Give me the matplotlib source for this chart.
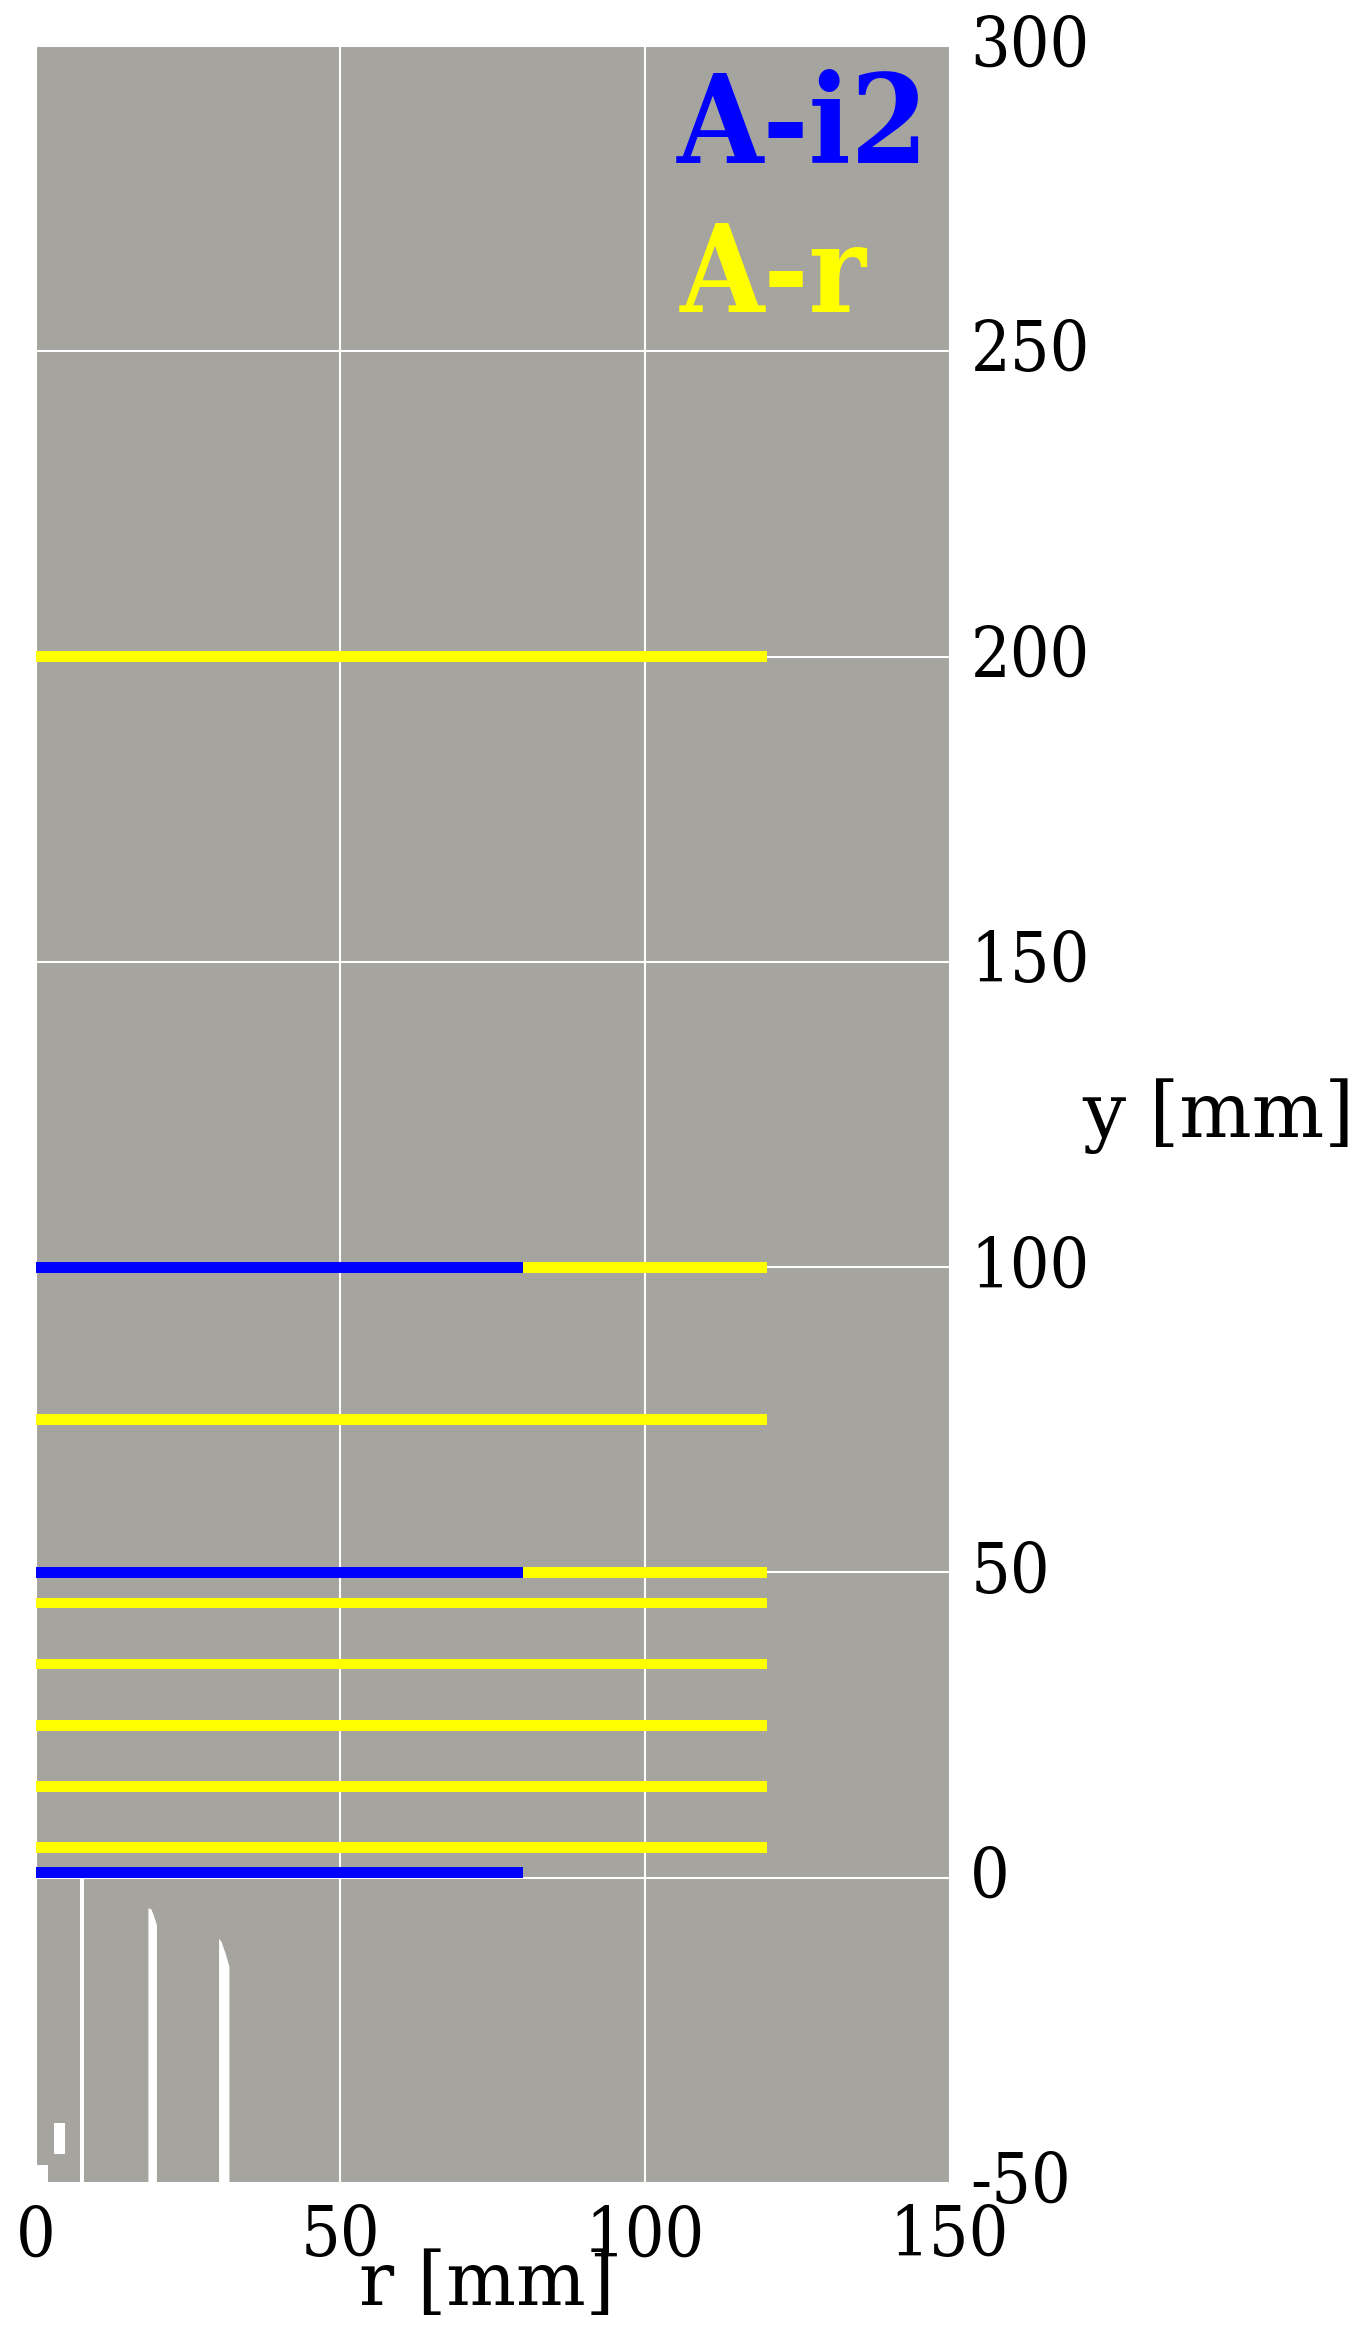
import matplotlib
matplotlib.use("Agg")
import matplotlib.pyplot as plt
from matplotlib.transforms import ScaledTranslation

# bar centres [mm]
yellowCentres = [5, 15, 25, 35, 45, 50, 75, 100, 200]
blueCentres = [0.85, 50, 100]
yellowEnd = 120
blueEnd = 80
barThickness = 1.78

xTicks = [0, 50, 100, 150]
yTicks = [-50, 0, 50, 100, 150, 200, 250, 300]

# white gaps in the grey area, (r, y) outlines
gapInner = ([7.2, 7.2, 7.9, 7.9], [-50, 0, 0, -50])
gapMiddle = ([18.5, 18.5, 19.0, 19.5, 19.9, 19.9], [-50, -5, -5.2, -6.5, -7.8, -50])
gapOuter = ([30.1, 30.1, 30.5, 31.2, 31.8, 31.8], [-50, -10, -10.5, -12.5, -14.6, -50])
gapSmall = ([3.05, 3.05, 4.8, 4.8], [-45.2, -40.1, -40.1, -45.2])
gapCorner = ([0, 0, 2, 2], [-50, -47, -47, -50])
gaps = [gapInner, gapMiddle, gapOuter, gapSmall, gapCorner]

grey = "#a6a49e"
fontSize = 50

plt.rcParams["font.family"] = ["DejaVu Serif"]

W, H = 1367, 2345
fig = plt.figure(figsize=(W / 100, H / 100), dpi=100)
ax = fig.add_axes([35.7 / W, 1 - 2183 / H, (949.5 - 35.7) / W, (2183 - 46) / H])
ax.set_facecolor(grey)
ax.set_xlim(0, 150)
ax.set_ylim(-50, 300)

for xs, ys in gaps:
    ax.fill(xs, ys, color="white", lw=0, zorder=1)

ax.grid(True, color="white", lw=1.5, zorder=2)
ax.set_axisbelow(False)
for line in ax.get_xgridlines() + ax.get_ygridlines():
    line.set_zorder(2)

ax.barh(yellowCentres, yellowEnd, height=barThickness, color="#ffff00", lw=0, zorder=3)
ax.barh(blueCentres, blueEnd, height=barThickness, color="#0000ff", lw=0, zorder=4)

for s in ax.spines.values():
    s.set_visible(False)

ax.set_xticks(xTicks)
ax.set_yticks(yTicks)
ax.yaxis.tick_right()
ax.tick_params(length=0, labelsize=fontSize)
ax.tick_params(axis="x", pad=15)
ax.tick_params(axis="y", pad=15)
ax.set_yticklabels([str(v) for v in yTicks])

# tick labels sit a bit above their grid lines
up = ScaledTranslation(0, 6 / 100, fig.dpi_scale_trans)
for lab in ax.get_yticklabels():
    lab.set_transform(lab.get_transform() + up)
    lab.set_fontstretch("condensed")
for lab in ax.get_xticklabels():
    lab.set_fontstretch("condensed")

ax.set_xlabel("r [mm]", fontsize=53, va="baseline")
ax.xaxis.set_label_coords(0.494, -0.0571)
ax.yaxis.set_label_position("right")
ax.set_ylabel("y [mm]", fontsize=55, rotation=0, ha="left", va="baseline")
ax.yaxis.set_label_coords(1.145, 0.4895)

ax.text(105.3, 280.8, "A-i2", color="#0000ff", fontsize=89, fontweight="bold", fontstretch="condensed", zorder=5)
ax.text(105.8, 256.4, "A-r", color="#ffff00", fontsize=87, fontweight="bold", fontstretch="condensed", zorder=5)

fig.savefig("out.png", dpi=100)
